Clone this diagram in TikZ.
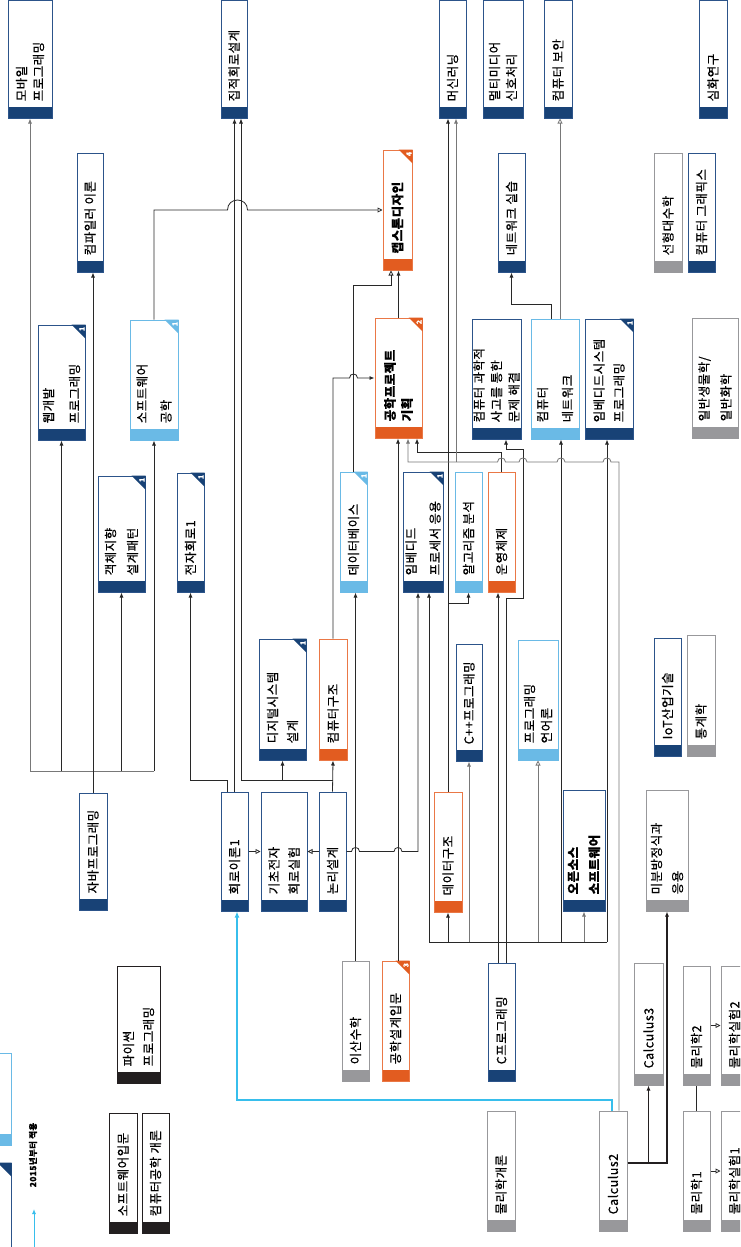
\documentclass[tikz,border=0pt]{standalone}
\usepackage{fontspec}
\setmainfont{Noto Sans CJK KR}[LetterSpace=4, FakeBold=0.5]
\usetikzlibrary{arrows.meta,fit}
\definecolor{nv}{RGB}{24,66,118}
\definecolor{nvb}{RGB}{44,84,138}
\definecolor{or}{RGB}{226,92,32}
\definecolor{orb}{RGB}{234,120,70}
\definecolor{lb}{RGB}{106,186,230}
\definecolor{gr}{RGB}{152,152,155}
\definecolor{bk}{RGB}{35,31,32}
\definecolor{cy}{RGB}{55,190,236}
\definecolor{ln}{RGB}{40,40,40}
\definecolor{lng}{RGB}{120,120,120}
\tikzset{
  cbox/.style={fill=white, line width=1pt, inner sep=0pt},
  ctext/.style={rotate=90, anchor=west, align=left, inner sep=0pt},
  arr/.style={draw=ln, line width=0.8pt, -{Latex[length=5pt,width=4pt]}},
  arrg/.style={draw=lng, line width=0.8pt, -{Latex[length=5pt,width=4pt]}},
  oarr/.style={draw=ln, line width=0.8pt, -{Triangle[open,length=5pt,width=5pt]}},
  oarrg/.style={draw=lng, line width=0.8pt, -{Triangle[open,length=5pt,width=5pt]}},
  plain/.style={draw=ln, line width=0.8pt},
  plaing/.style={draw=lng, line width=0.8pt},
  arrk/.style={draw=bk, line width=1.1pt, -{Latex[length=5pt,width=4pt]}},
  cyarr/.style={draw=cy, line width=1.4pt, -{Latex[length=6pt,width=5pt]}},
  hop/.style n args={3}{insert path={-- ({#1-#3},#2) .. controls ({#1-#3},{#2-1.33*#3}) and ({#1+#3},{#2-1.33*#3}) .. ({#1+#3},#2)}},
  hopl/.style n args={3}{insert path={-- ({#1+#3},#2) .. controls ({#1+#3},{#2-1.33*#3}) and ({#1-#3},{#2-1.33*#3}) .. ({#1-#3},#2)}},
}
% #1 baselineskip, #2 name, #3 x1, #4 y1, #5 x2, #6 y2, #7 border, #8 bar, #9 text
\newcommand\crs[9][18]{%
  \node[cbox, draw=#7, fit={(#3,#4)(#5,#6)},
    path picture={\fill[#8] ([yshift=11pt]path picture bounding box.south west) rectangle (path picture bounding box.south east);}] (#2) {};
  \node[ctext, font=\fontsize{12.5}{#1}\selectfont] (#2-t) at ([yshift=17pt]#2.south) {#9};
}
\newcommand\crsbox[7]{%
  \node[cbox, draw=#6, fit={(#2,#3)(#4,#5)},
    path picture={\fill[#7] ([yshift=11pt]path picture bounding box.south west) rectangle (path picture bounding box.south east);}] (#1) {};
}
\newcommand\crn[3]{%
  \fill[#2] ([xshift=-14pt]#1.north east) -- (#1.north east) -- ([yshift=-14pt]#1.north east) -- cycle;
  \node[rotate=90, text=white, font=\fontsize{7}{7}\selectfont\bfseries, inner sep=0pt] (#1-n) at ([xshift=-3.5pt,yshift=-4.5pt]#1.north east) {#3};
}
\begin{document}
\begin{tikzpicture}[x=1pt,y=-1pt]
\useasboundingbox (0,0) rectangle (740,1247);
\fill[white] (0,0) rectangle (740,1247);
\begin{scope}
\clip (0,0) rectangle (740,1247);
% ---------- courses ----------
\crs[17]{mob}{8}{1}{52}{118}{nvb}{nv}{모바일\\프로그래밍}
\crs{ic}{221}{1}{247}{118}{nvb}{nv}{집적회로설계}
\crs{ml}{439}{1}{466}{118}{nvb}{nv}{머신러닝}
\crs[17]{mm}{483}{1}{523}{118}{nvb}{nv}{멀티미디어\\신호처리}
\crs{sec}{544}{1}{572}{118}{nvb}{nv}{컴퓨터 보안}
\crs{adv}{699}{1}{727}{118}{nvb}{nv}{심화연구}
\crs{comp}{77}{153}{103}{272}{nvb}{nv}{컴파일러 이론}
\crs{cap}{383}{150}{412}{270}{orb}{or}{\bfseries 캡스톤디자인}
\crs{nl}{498}{153}{525}{272}{nvb}{nv}{네트워크 실습}
\crs{la}{654}{153}{682}{272}{gr}{gr}{선형대수학}
\crs{cg}{688}{153}{715}{272}{nvb}{nv}{컴퓨터 그래픽스}
\crs[26]{web}{38}{325}{85}{440}{nvb}{nv}{웹개발\\프로그래밍}
\crs[24]{swe}{130}{320}{178}{440}{lb}{lb}{소프트웨어\\공학}
\crs[17]{pp}{375}{318}{422}{438}{orb}{or}{\bfseries 공학프로젝트\\\bfseries 기획}
\crs[17.5]{cs}{472}{319}{521}{439}{nvb}{nv}{컴퓨터 과학적\\사고를 통한\\문제 해결}
\crs[25]{net}{531}{319}{579}{439}{lb}{lb}{컴퓨터\\네트워크}
\crs[20]{es}{585}{319}{633}{439}{nvb}{nv}{임베디드시스템\\프로그래밍}
\crs[22]{bio}{692}{318}{738}{438}{gr}{gr}{일반생물학/\\일반화학}
\crs[22]{oop}{98}{476}{145}{592}{nvb}{nv}{객체지향\\설계패턴}
\crs{ec}{177}{473}{204}{592}{nvb}{nv}{전자회로1}
\crs{db}{340}{472}{367}{592}{lb}{lb}{데이터베이스}
\crs[24]{emp}{403}{472}{443}{592}{nvb}{nv}{임베디드\\프로세서 응용}
\crs{alg}{455}{472}{482}{592}{lb}{lb}{알고리즘 분석}
\crs{os}{488}{472}{515}{592}{orb}{or}{운영체제}
\crs[20]{ds}{259}{639}{306}{760}{nvb}{nv}{디지털시스템\\설계}
\crs{ca}{319}{639}{347}{760}{orb}{or}{컴퓨터구조}
\crs{cpp}{456}{644}{482}{761}{nvb}{nv}{C++프로그래밍}
\crs[17]{pl}{518}{640}{558}{760}{lb}{lb}{프로그래밍\\언어론}
\crs{iot}{654}{638}{681}{756}{nvb}{nv}{IoT산업기술}
\crs{st}{687}{635}{715}{756}{gr}{gr}{통계학}
\crs{java}{79}{793}{107}{910}{nvb}{nv}{자바프로그래밍}
\crs{cir}{221}{792}{248}{911}{nvb}{nv}{회로이론1}
\crs[20]{bce}{261}{792}{307}{911}{nvb}{nv}{기초전자\\회로실험}
\crs{lg}{319}{792}{346}{911}{nvb}{nv}{논리설계}
\crs{dst}{434}{792}{462}{912}{orb}{or}{데이터구조}
\crs[21]{oss}{563}{790}{605}{911}{nvb}{nv}{\bfseries 오픈소스\\\bfseries 소프트웨어}
\crs[21]{de}{646}{790}{688}{911}{gr}{gr}{미분방정식과\\응용}
\crs[20]{py}{117}{966}{160}{1083}{bk}{bk}{파이썬\\프로그래밍}
\crs{dm}{342}{961}{369}{1081}{gr}{gr}{이산수학}
\crs{ed}{382}{961}{409}{1081}{orb}{or}{공학설계입문}
\crs{cp}{488}{963}{515}{1081}{nvb}{nv}{C프로그래밍}
\crs{c3}{634}{963}{663}{1085}{gr}{gr}{Calculus3}
\crs{p2}{683}{966}{710}{1085}{gr}{gr}{물리학2}
\crs{pl2}{721}{966}{748}{1085}{gr}{gr}{물리학실험2}
\crs{sw}{109}{1113}{137}{1233}{bk}{bk}{소프트웨어입문}
\crs{ce}{142}{1113}{169}{1233}{bk}{bk}{컴퓨터공학 개론}
\crs{phy}{487}{1111}{515}{1231}{gr}{gr}{물리학개론}
\crs{cal2}{599}{1111}{627}{1231}{gr}{gr}{Calculus2}
\crs{p1}{683}{1111}{710}{1231}{gr}{gr}{물리학1}
\crs{pl1}{721}{1111}{748}{1231}{gr}{gr}{물리학실험1}
% legend boxes (cut at the left edge)
\crsbox{lga}{-40}{1053}{11}{1145}{lb}{lb}
\crsbox{lgb}{-40}{1163}{11}{1262}{nvb}{nv}
% ---------- corners ----------
\crn{web}{nv}{1}
\crn{swe}{lb}{1}
\crn{oop}{nv}{1}
\crn{ec}{nv}{1}
\crn{db}{lb}{1}
\crn{emp}{nv}{1}
\crn{ds}{nv}{1}
\crn{es}{nv}{1}
\crn{pp}{or}{2}
\crn{cap}{or}{4}
\crn{ed}{or}{3}
\fill[nv] ([xshift=-14pt]lgb.north east) -- (lgb.north east) -- ([yshift=-14pt]lgb.north east) -- cycle;
% ---------- connectors ----------
% Java
\coordinate (jb) at (java.north |- 0,771);
\draw[plaing] (mob.south |- jb) -- (swe.south |- jb);
\draw[arr] (java.north) -- (java.north |- comp.south);
\draw[arrg] (mob.south |- jb) -- (mob.south);
\draw[arr] (web.south |- jb) -- (web.south);
\draw[arr] (oop.south |- jb) -- (oop.south);
\draw[arr] (swe.south |- jb) -- (swe.south);
% circuits
\draw[arr] (cir.north) -- (cir.north |- ic.south);
\draw[arr] ([xshift=-7pt]cir.north) |- (ec.south |- 0,780) -- (ec.south);
\draw[oarr] (cir.east) -- (bce.west);
\draw[oarr] (lg.west) -- (bce.east);
\draw[arr] (lg.north) -- (ca.south);
\draw[plain] (lg.north |- 0,780) -- ([xshift=7pt]ic.south |- 0,780);
\draw[arr] (lg.north |- 0,780) -| (ds.south);
\draw[arr] ([xshift=7pt]ic.south |- 0,780) -- ([xshift=7pt]ic.south);
\draw[arr] (lg.east) [hop={355.5}{851.5}{4}] [hop={398}{851.5}{4}] -- ([xshift=-5pt]emp.south |- lg.east) -- ([xshift=-5pt]emp.south);
% discrete math, databases, capstone
\draw[arr] (dm.north) -- (dm.north |- db.south);
\draw[oarr] (db.north) -- (db.north |- 0,285) -| ([xshift=-6.5pt]cap.south);
\draw[oarr] (swe.north) -- (swe.north |- cap.west) [hop={237.5}{210}{10}] -- (cap.west);
\draw[arr] (ca.north) -- (ca.north |- pp.west) [hop={353.5}{378}{4}] -- (pp.west);
\draw[arr] ([xshift=2.5pt]ed.north) -- ([xshift=2.5pt]ed.north |- pp.south);
\draw[arr] (pp.north) -- (pp.north |- cap.south);
\draw[arr] (os.north) -- (os.north |- 0,452) -| ([xshift=18.5pt]pp.south);
% C programming
\draw[arr] ([xshift=-3.5pt]cp.north) -- ([xshift=-3.5pt]cp.north |- os.south);
\draw[arr] ([xshift=4.5pt]cp.north) -- ([xshift=4.5pt]cp.north |- 0,598) -- (523,598) -- (523,449) -| ([xshift=9.5pt]cs.south);
\draw[plain] ([xshift=6pt]emp.south |- 0,942) -- ([xshift=-2pt]es.south |- 0,942);
\draw[arr] ([xshift=6pt]emp.south |- 0,942) -- ([xshift=6pt]emp.south);
\draw[arr] (dst.south |- 0,942) -- (dst.south);
\draw[arrg] (cpp.south |- 0,942) -- (cpp.south);
\draw[oarrg] (pl.south |- 0,942) -- (pl.south);
\draw[arr] ([xshift=6pt]net.south |- 0,942) -- ([xshift=6pt]net.south);
\draw[arrg] (oss.south |- 0,942) -- (oss.south);
\draw[arr] ([xshift=-2pt]es.south |- 0,942) -- ([xshift=-2pt]es.south);
% data structures
\draw[arr] (dst.north) -- (dst.north |- ml.south);
\draw[arr] (dst.north |- 0,603) -| (alg.south);
% calculus 2 to project / machine learning
\draw[arrg] ([xshift=6pt]cal2.north) -- ([xshift=6pt]cal2.north |- 0,462) [hopl={607}{462}{4}] [hopl={561}{462}{4}] [hopl={523}{462}{4}] [hopl={501.5}{462}{4}] -- ([xshift=9.5pt]pp.south |- 0,462) -- ([xshift=9.5pt]pp.south);
\draw[arrg] ([xshift=3.5pt]ml.south |- 0,462) -- ([xshift=3.5pt]ml.south);
% network
\draw[arr] ([xshift=-4pt]net.north) |- (nl.south |- 0,304) -- (nl.south);
\draw[oarrg] ([xshift=5pt]net.north) -- ([xshift=5pt]net.north |- sec.south);
% calculus, physics
\draw[arrk] ([yshift=8pt]cal2.east) -| (c3.south);
\draw[arrk] ([yshift=8pt]cal2.east) -| (de.south);
\draw[plain] (p1.north) -- (p2.south);
\draw[oarr] (p1.east) -- (pl1.west);
\draw[oarr] (p2.east) -- (pl2.west);
\draw[cyarr] ([xshift=-1pt]cal2.north) |- ([xshift=2.5pt]cir.south |- 0,1100) -- ([xshift=2.5pt]cir.south);
% legend arrow
\coordinate (lgs) at (34,1247);
\coordinate (lge) at (34,1209);
\draw[draw=cy, line width=1pt, -{Latex[length=5pt,width=4pt]}] (lgs) -- (lge);
\node[rotate=90, font=\fontsize{8.5}{9}\selectfont\bfseries, inner sep=0pt] (lgt) at (33,1155) {2015년부터 적용};
\end{scope}
\end{tikzpicture}
\end{document}
